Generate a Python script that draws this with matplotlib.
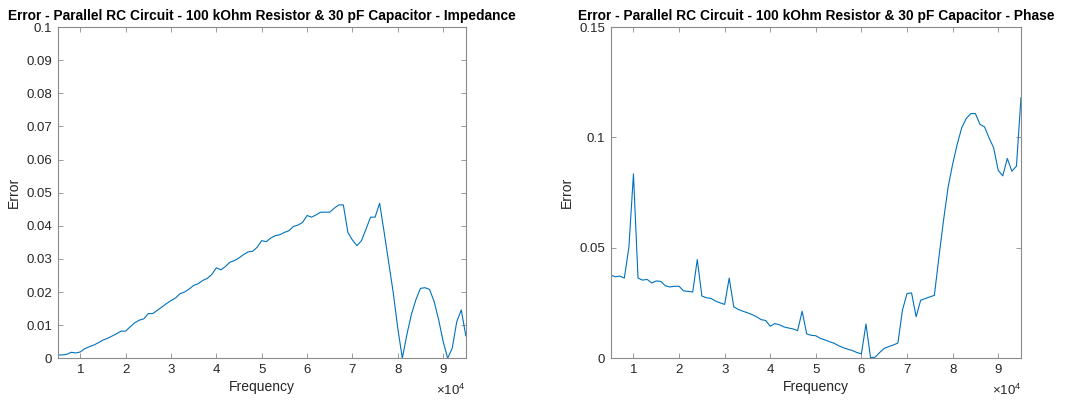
import numpy as np
import matplotlib
matplotlib.use("Agg")
import matplotlib.pyplot as plt
from matplotlib.ticker import FuncFormatter

plt.rcParams['font.family'] = ['Liberation Sans', 'DejaVu Sans']
plt.rcParams['mathtext.fontset'] = 'custom'
plt.rcParams['mathtext.rm'] = 'Liberation Sans'
plt.rcParams['mathtext.it'] = 'Liberation Sans'

# frecuencias medidas (Hz)
frequency = [5000, 6000, 7000, 8000, 9000, 10000, 11000, 12000, 13000, 14000,
             15000, 16000, 17000, 18000, 19000, 20000, 21000, 22000, 23000, 24000,
             25000, 26000, 27000, 28000, 29000, 30000, 31000, 32000, 33000, 34000,
             35000, 36000, 37000, 38000, 39000, 40000, 41000, 42000, 43000, 44000,
             45000, 46000, 47000, 48000, 49000, 50000, 51000, 52000, 53000, 54000,
             55000, 56000, 57000, 58000, 59000, 60000, 61000, 62000, 63000, 64000,
             65000, 66000, 67000, 68000, 69000, 70000, 71000, 72000, 73000, 74000,
             75000, 76000, 77000, 78000, 79000, 80000, 81000, 82000, 83000, 84000,
             85000, 86000, 87000, 88000, 89000, 90000, 91000, 92000, 93000, 94000,
             95000]

error_impedance = [0.0010, 0.0010, 0.0012, 0.0018, 0.0016, 0.0019, 0.0029, 0.0035, 0.0040, 0.0047,
                   0.0055, 0.0060, 0.0067, 0.0074, 0.0082, 0.0082, 0.0095, 0.0107, 0.0115, 0.0119,
                   0.0135, 0.0135, 0.0145, 0.0155, 0.0165, 0.0174, 0.0182, 0.0195, 0.0200, 0.0209,
                   0.0220, 0.0225, 0.0235, 0.0241, 0.0253, 0.0273, 0.0267, 0.0277, 0.0290, 0.0295,
                   0.0303, 0.0313, 0.0321, 0.0323, 0.0335, 0.0355, 0.0352, 0.0363, 0.0370, 0.0373,
                   0.0380, 0.0385, 0.0398, 0.0402, 0.0410, 0.0431, 0.0426, 0.0433, 0.0441, 0.0441,
                   0.0441, 0.0453, 0.0463, 0.0463, 0.0380, 0.0357, 0.0340, 0.0355, 0.0390, 0.0426,
                   0.0426, 0.0468, 0.0380, 0.0289, 0.0198, 0.0091, 0.0000, 0.0071, 0.0132, 0.0177,
                   0.0211, 0.0213, 0.0208, 0.0172, 0.0117, 0.0051, 0.0000, 0.0030, 0.0110, 0.0146,
                   0.0068]

error_phase = [0.0377, 0.0369, 0.0372, 0.0363, 0.0503, 0.0835, 0.0363, 0.0354, 0.0357, 0.0341,
               0.0350, 0.0348, 0.0328, 0.0323, 0.0326, 0.0326, 0.0305, 0.0303, 0.0300, 0.0447,
               0.0282, 0.0274, 0.0271, 0.0259, 0.0251, 0.0244, 0.0363, 0.0233, 0.0221, 0.0213,
               0.0206, 0.0198, 0.0188, 0.0175, 0.0171, 0.0145, 0.0157, 0.0152, 0.0142, 0.0137,
               0.0133, 0.0125, 0.0213, 0.0110, 0.0104, 0.0102, 0.0090, 0.0083, 0.0075, 0.0068,
               0.0057, 0.0048, 0.0041, 0.0035, 0.0026, 0.0020, 0.0155, 0.0003, 0.0005, 0.0026,
               0.0045, 0.0053, 0.0060, 0.0069, 0.0218, 0.0293, 0.0296, 0.0188, 0.0263, 0.0270,
               0.0278, 0.0285, 0.0458, 0.0623, 0.0773, 0.0878, 0.0968, 0.1044, 0.1086, 0.1108,
               0.1108, 0.1059, 0.1048, 0.0998, 0.0953, 0.0851, 0.0826, 0.0905, 0.0847, 0.0870,
               0.1180]

x_ticks = [10000, 20000, 30000, 40000, 50000, 60000, 70000, 80000, 90000]
y_ticks_imp = [0, 0.01, 0.02, 0.03, 0.04, 0.05, 0.06, 0.07, 0.08, 0.09, 0.1]
y_ticks_phase = [0, 0.05, 0.1, 0.15]

titles = ["Error - Parallel RC Circuit - 100 kOhm Resistor & 30 pF Capacitor - Impedance",
          "Error - Parallel RC Circuit - 100 kOhm Resistor & 30 pF Capacitor - Phase"]

ax_color = "#8a8a8a"
txt_color = "#262626"
line_color = "#0072BD"

fig = plt.figure(figsize=(10.77, 4.03), dpi=100)
ax1 = fig.add_axes([0.0535, 0.111, 0.379, 0.822])
ax2 = fig.add_axes([0.567, 0.111, 0.381, 0.822])


def estilo_matlab(ax, datos, yticks, ymax, titulo):
    ax.plot(frequency, datos, color=line_color, linewidth=0.8)
    ax.set_xlim(5000, 95000)
    ax.set_ylim(0, ymax)
    ax.set_xticks(x_ticks)
    ax.xaxis.set_major_formatter(FuncFormatter(lambda v, p: "%d" % round(v / 1e4)))
    ax.set_yticks(yticks)
    ax.yaxis.set_major_formatter(FuncFormatter(lambda v, p: "%g" % v))
    ax.tick_params(direction="in", length=3.5, width=0.6, color=ax_color,
                   labelcolor=txt_color, labelsize=9.5, top=True, right=True, pad=4)
    for s in ax.spines.values():
        s.set_color(ax_color)
        s.set_linewidth(0.8)
    ax.set_xlabel("Frequency", fontsize=10, color=txt_color, labelpad=3)
    ax.set_ylabel("Error", fontsize=10, color=txt_color, labelpad=4)
    ax.set_title(titulo, fontsize=9.95, fontweight="bold", color="black", pad=5)
    # factor de escala del eje x como en matlab
    ax.text(1.0, -0.097, r"$\times10^{4}$", transform=ax.transAxes, ha="right", va="center",
            fontsize=9.5, color=txt_color)


estilo_matlab(ax1, error_impedance, y_ticks_imp, 0.1, titles[0])
estilo_matlab(ax2, error_phase, y_ticks_phase, 0.15, titles[1])

fig.savefig("out.png", dpi=100)
